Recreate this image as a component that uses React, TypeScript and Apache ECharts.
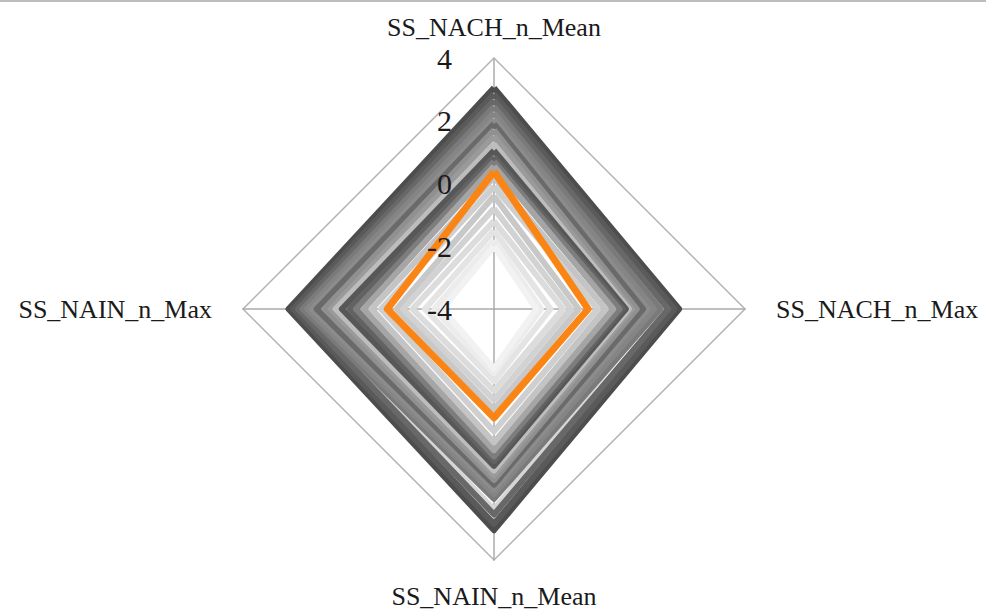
import React, { useEffect, useRef } from "react";
import * as echarts from "echarts";

// Indicators in ECharts order (counter-clockwise from top): top, left, bottom, right
const indicatorNames = ["SS_NACH_n_Mean", "SS_NAIN_n_Max", "SS_NAIN_n_Mean", "SS_NACH_n_Max"];
const axisMin = -4;
const axisMax = 4;
const tickSplit = 4;

// Gray profiles: [top, left, bottom, right]
const grayLines: number[][] = [
  [2.5, 2.0, 2.4, 1.2],
  [3.05, 2.55, 3.05, 1.9],
  [2.85, 2.4, 2.85, 1.75],
  [2.65, 2.25, 2.55, 1.55],
  [2.45, 2.1, 2.05, 1.3],
  [2.25, 1.95, 1.9, 1.1],
  [2.05, 1.8, 1.75, 0.9],
  [1.9, 1.65, 1.6, 0.75],
  [1.7, 1.4, 1.45, 0.55],
  [1.5, 1.2, 1.3, 0.4],
  [1.25, 1.05, 1.15, 0.3],
  [1.05, 0.85, 1.0, 0.2],
  [0.85, 0.6, 0.85, 0.1],
  [0.7, 0.4, 0.7, 0.0],
  [0.55, 0.15, 0.5, -0.2],
  [0.2, -0.1, 0.25, -0.45],
  [-0.1, -0.4, -0.1, -0.7],
  [-0.4, -0.9, -0.8, -1.3],
  [-0.8, -1.1, -1.1, -1.55],
  [-1.2, -1.4, -1.4, -1.8],
  [-1.5, -1.8, -1.7, -2.2],
  [-1.8, -2.1, -1.95, -2.5],
  [-2.0, -2.35, -2.1, -2.65],
];
const grayColors: string[] = [
  "#d6d6d6",
  "#4d4d4d", "#5a5a5a", "#686868", "#7a7a7a", "#858585", "#8c8c8c",
  "#6a6a6a", "#909090", "#9a9a9a", "#bdbdbd", "#575757", "#626262",
  "#7d7d7d", "#a5a5a5", "#c4c4c4", "#cfcfcf", "#c8c8c8", "#d2d2d2",
  "#dcdcdc", "#e4e4e4", "#ececec", "#f2f2f2",
];
const orangeLine: number[] = [0.38, -0.6, -0.53, -1.0];

export default function App() {
  const ref = useRef<HTMLDivElement>(null);
  useEffect(() => {
    document.body.style.margin = "0";
    const chart = echarts.init(ref.current!, null, { renderer: "svg" });
    const font = "'Liberation Serif', 'Times New Roman', serif";
    const indicators = (withLabel: boolean) =>
      indicatorNames.map((name, i) => ({
        name,
        min: axisMin,
        max: axisMax,
        ...(withLabel && i === 0 ? { axisLabel: { show: true } } : {}),
      }));
    const geometry = {
      center: [494, 309],
      radius: 251,
      startAngle: 90,
      shape: "polygon",
      splitNumber: tickSplit,
    };
    chart.setOption({
      animation: false,
      backgroundColor: "#ffffff",
      graphic: [
        {
          type: "line",
          shape: { x1: 0, y1: 1, x2: 986, y2: 1 },
          style: { stroke: "#bdbdbd", lineWidth: 2 },
        },
      ],
      radar: [
        {
          ...geometry,
          z: 0,
          axisName: { show: false },
          axisLine: { lineStyle: { color: "#ababab", width: 1.5 } },
          splitLine: {
            lineStyle: {
              color: ["transparent", "transparent", "transparent", "transparent", "#b4b4b4"],
              width: 1.5,
            },
          },
          splitArea: { show: false },
          axisTick: { show: false },
          axisLabel: { show: false },
          indicator: indicators(false),
        },
        {
          ...geometry,
          z: 10,
          nameGap: 13,
          axisName: {
            color: "#1a1a1a",
            fontFamily: font,
            fontSize: 26,
            formatter: (name: string) =>
              name.indexOf("Max") >= 0 ? `{h|${name}}` : name === "SS_NAIN_n_Mean" ? `{b|${name}}` : `{v|${name}}`,
            rich: {
              h: { fontFamily: font, fontSize: 26, color: "#1a1a1a", padding: [0, 18, 0, 18] },
              v: { fontFamily: font, fontSize: 26, color: "#1a1a1a", lineHeight: 22 },
              b: { fontFamily: font, fontSize: 26, color: "#1a1a1a", padding: [10, 0, 0, 0] },
            },
          },
          axisLine: { show: false },
          splitLine: { show: false },
          splitArea: { show: false },
          axisTick: { show: false },
          axisLabel: {
            show: false,
            fontFamily: font,
            fontSize: 30,
            lineHeight: 16,
            color: "#1a1a1a",
            margin: 42,
            padding: [20, 0, 0, 0],
          },
          indicator: indicators(true),
        },
      ],
      series: [
        {
          type: "radar",
          radarIndex: 0,
          symbol: "none",
          z: 2,
          data: grayLines.map((v, i) => ({
            value: v,
            lineStyle: { color: grayColors[i], width: 6 },
          })),
        },
        {
          type: "radar",
          radarIndex: 0,
          symbol: "none",
          z: 3,
          data: [{ value: orangeLine, lineStyle: { color: "#fb8514", width: 7 } }],
        },
      ],
    });
    return () => chart.dispose();
  }, []);
  return <div ref={ref} style={{ width: 986, height: 615 }} />;
}
